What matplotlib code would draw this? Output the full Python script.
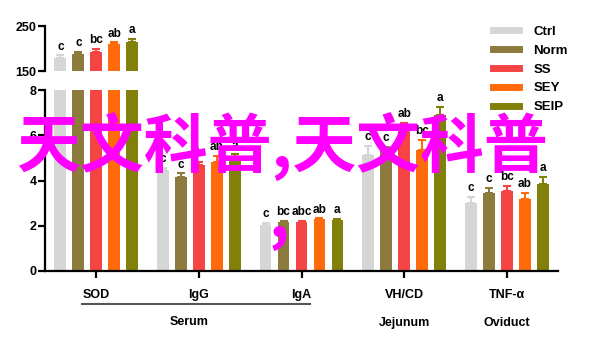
import numpy as np
import matplotlib
matplotlib.use("Agg")
import matplotlib.pyplot as plt
from matplotlib.lines import Line2D

plt.rcParams['font.family'] = ['Liberation Sans', 'DejaVu Sans']

groups = ['SOD', 'IgG', 'IgA', 'VH/CD', 'TNF-α']
series = ['Ctrl', 'Norm', 'SS', 'SEY', 'SEIP']
colors = ['#d6d6d6', '#8c7b3d', '#f54444', '#ff6a0a', '#80800a']

# means (SOD is on the 150-250 scale, the rest on 0-8)
ctrl = [178, 4.45, 2.04, 5.13, 3.02]
norm = [188, 4.17, 2.15, 5.40, 3.47]
ss = [193, 4.69, 2.18, 6.46, 3.54]
sey = [211, 4.84, 2.29, 5.35, 3.19]
seip = [215, 4.98, 2.26, 6.90, 3.85]

ctrl_err = [7, 0.10, 0.10, 0.40, 0.24]
norm_err = [5, 0.15, 0.06, 0.08, 0.19]
ss_err = [7, 0.15, 0.05, 0.10, 0.22]
sey_err = [3, 0.25, 0.04, 0.45, 0.28]
seip_err = [6, 0.18, 0.05, 0.35, 0.32]

ctrl_lab = ['c', 'c', 'c', 'c', 'c']
norm_lab = ['c', 'c', 'bc', 'c', 'c']
ss_lab = ['bc', 'b', 'abc', 'ab', 'bc']
sey_lab = ['ab', 'ab', 'ab', 'bc', 'ab']
seip_lab = ['a', 'a', 'a', 'a', 'a']

means = [ctrl, norm, ss, sey, seip]
errs = [ctrl_err, norm_err, ss_err, sey_err, seip_err]
labs = [ctrl_lab, norm_lab, ss_lab, sey_lab, seip_lab]

fig = plt.figure(figsize=(6, 3.4), dpi=100)
ax_top = fig.add_axes([0.075, 0.791, 0.855, 0.132])
ax_bot = fig.add_axes([0.075, 0.203, 0.855, 0.532])

x = np.arange(len(groups))
step = 0.175
width = 0.115

for i in range(len(series)):
    xs = x + (i - 2) * step
    m = np.array(means[i])
    e = np.array(errs[i])
    for ax in (ax_top, ax_bot):
        ax.bar(xs, m, width, color=colors[i], zorder=2)
        ax.errorbar(xs, m, yerr=[np.zeros_like(e), e], fmt='none',
                    ecolor=colors[i], elinewidth=1.5, capsize=3,
                    capthick=1.5, zorder=3)
    for j in range(len(groups)):
        ax = ax_top if m[j] > 8 else ax_bot
        ax.annotate(labs[i][j], (xs[j], m[j] + e[j]), xytext=(0, 2),
                    textcoords='offset points', ha='center', va='bottom',
                    fontsize=8.5, fontweight='bold')

for ax in (ax_top, ax_bot):
    ax.set_xlim(-0.5, 4.5)
    ax.spines['top'].set_visible(False)
    ax.spines['right'].set_visible(False)
    ax.spines['left'].set_linewidth(1.6)
    ax.spines['bottom'].set_linewidth(1.6)
    ax.tick_params(axis='y', width=1.6, length=5, labelsize=9, pad=1)

ax_top.set_ylim(150, 250)
ax_top.set_yticks([150, 250])
ax_top.set_yticklabels(['150', '250'], fontweight='bold')
ax_top.spines['bottom'].set_visible(False)
ax_top.set_xticks([])

ax_bot.set_ylim(0, 8)
ax_bot.set_yticks([0, 2, 4, 6, 8])
ax_bot.set_yticklabels(['0', '2', '4', '6', '8'], fontweight='bold')
ax_bot.set_xticks(x)
ax_bot.set_xticklabels(groups, fontweight='bold', fontsize=9)
ax_bot.tick_params(axis='x', width=1.6, length=5, pad=8)

# group labels under the categories
tr = ax_bot.get_xaxis_transform()
ax_bot.plot([-0.14, 2.08], [-0.18, -0.18], color='#555555', lw=1.5,
            transform=tr, clip_on=False)
ax_bot.text(0.9, -0.28, 'Serum', transform=tr, ha='center', va='center',
            fontsize=9, fontweight='bold')
ax_bot.text(3.0, -0.285, 'Jejunum', transform=tr, ha='center', va='center',
            fontsize=9, fontweight='bold')
ax_bot.text(4.0, -0.285, 'Oviduct', transform=tr, ha='center', va='center',
            fontsize=9, fontweight='bold')

handles = [Line2D([], [], color=c, lw=5) for c in colors]
fig.legend(handles, series, loc='upper left', bbox_to_anchor=(0.81, 0.944),
           frameon=False, borderpad=0, handlelength=2.0, handletextpad=1.1,
           labelspacing=0.5, prop={'size': 9.5, 'weight': 'bold'})

# magenta overlay text
fig.text(0.47, 0.568, '天文科普,天文科普', fontsize=46, color='#ff00ff',
         family=['Noto Sans CJK SC', 'DejaVu Sans'], fontweight='bold',
         ha='center', va='center')
fig.text(279 / 600, 1 - 218 / 340, ',', fontsize=46, color='#ff00ff',
         family=['Noto Sans CJK SC', 'DejaVu Sans'], fontweight='bold',
         ha='center', va='center')

fig.savefig('out.png', dpi=100)
